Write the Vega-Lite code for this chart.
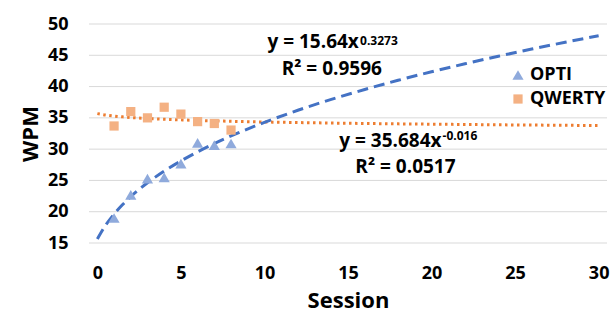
{
  "$schema": "https://vega.github.io/schema/vega-lite/v6.json",
  "width": 518,
  "height": 219,
  "autosize": {"type": "none"},
  "padding": {"left": 89, "top": 24, "right": 3, "bottom": 81},
  "background": "white",
  "config": {
    "view": {"stroke": null},
    "font": "Open Sans",
    "axis": {
      "labelFont": "Open Sans", "labelFontWeight": "bold", "labelFontSize": 18, "labelColor": "#000000",
      "titleFont": "Open Sans", "titleFontWeight": "bold", "titleFontSize": 22, "titleColor": "#000000",
      "domain": false, "tickSize": 0, "tickOpacity": 0
    },
    "legend": {"labelFont": "Open Sans", "labelFontWeight": "bold", "labelFontSize": 18, "labelColor": "#000000"}
  },
  "datasets": {
    "gridlines": [
      {"wpm": 15}, {"wpm": 20}, {"wpm": 25}, {"wpm": 30}, {"wpm": 35}, {"wpm": 40}, {"wpm": 45}, {"wpm": 50}
    ],
    "points": [
      {"session": 1, "wpm": 19.0, "layout": "OPTI"},
      {"session": 2, "wpm": 22.7, "layout": "OPTI"},
      {"session": 3, "wpm": 25.3, "layout": "OPTI"},
      {"session": 4, "wpm": 25.5, "layout": "OPTI"},
      {"session": 5, "wpm": 27.7, "layout": "OPTI"},
      {"session": 6, "wpm": 31.0, "layout": "OPTI"},
      {"session": 7, "wpm": 30.65, "layout": "OPTI"},
      {"session": 8, "wpm": 30.9, "layout": "OPTI"},
      {"session": 1, "wpm": 33.7, "layout": "QWERTY"},
      {"session": 2, "wpm": 36.0, "layout": "QWERTY"},
      {"session": 3, "wpm": 35.0, "layout": "QWERTY"},
      {"session": 4, "wpm": 36.7, "layout": "QWERTY"},
      {"session": 5, "wpm": 35.6, "layout": "QWERTY"},
      {"session": 6, "wpm": 34.4, "layout": "QWERTY"},
      {"session": 7, "wpm": 34.1, "layout": "QWERTY"},
      {"session": 8, "wpm": 33.05, "layout": "QWERTY"}
    ],
    "trend": [
      {"session": 0, "wpm": 15.64, "layout": "OPTI"},
      {"session": 0.5, "wpm": 17.86, "layout": "OPTI"},
      {"session": 1, "wpm": 19.62, "layout": "OPTI"},
      {"session": 1.5, "wpm": 21.11, "layout": "OPTI"},
      {"session": 2, "wpm": 22.41, "layout": "OPTI"},
      {"session": 3, "wpm": 24.62, "layout": "OPTI"},
      {"session": 4, "wpm": 26.49, "layout": "OPTI"},
      {"session": 5, "wpm": 28.11, "layout": "OPTI"},
      {"session": 6, "wpm": 29.57, "layout": "OPTI"},
      {"session": 7, "wpm": 30.89, "layout": "OPTI"},
      {"session": 8, "wpm": 32.11, "layout": "OPTI"},
      {"session": 10, "wpm": 34.28, "layout": "OPTI"},
      {"session": 12, "wpm": 36.21, "layout": "OPTI"},
      {"session": 14, "wpm": 37.95, "layout": "OPTI"},
      {"session": 16, "wpm": 39.53, "layout": "OPTI"},
      {"session": 18, "wpm": 41.0, "layout": "OPTI"},
      {"session": 20, "wpm": 42.37, "layout": "OPTI"},
      {"session": 22, "wpm": 43.64, "layout": "OPTI"},
      {"session": 24, "wpm": 44.85, "layout": "OPTI"},
      {"session": 26, "wpm": 46.0, "layout": "OPTI"},
      {"session": 28, "wpm": 47.08, "layout": "OPTI"},
      {"session": 30, "wpm": 48.12, "layout": "OPTI"},
      {"session": 0, "wpm": 35.68, "layout": "QWERTY"},
      {"session": 0.5, "wpm": 35.45, "layout": "QWERTY"},
      {"session": 1, "wpm": 35.29, "layout": "QWERTY"},
      {"session": 1.5, "wpm": 35.16, "layout": "QWERTY"},
      {"session": 2, "wpm": 35.06, "layout": "QWERTY"},
      {"session": 3, "wpm": 34.9, "layout": "QWERTY"},
      {"session": 4, "wpm": 34.78, "layout": "QWERTY"},
      {"session": 5, "wpm": 34.68, "layout": "QWERTY"},
      {"session": 6, "wpm": 34.59, "layout": "QWERTY"},
      {"session": 7, "wpm": 34.52, "layout": "QWERTY"},
      {"session": 8, "wpm": 34.45, "layout": "QWERTY"},
      {"session": 10, "wpm": 34.34, "layout": "QWERTY"},
      {"session": 12, "wpm": 34.25, "layout": "QWERTY"},
      {"session": 14, "wpm": 34.17, "layout": "QWERTY"},
      {"session": 16, "wpm": 34.1, "layout": "QWERTY"},
      {"session": 18, "wpm": 34.04, "layout": "QWERTY"},
      {"session": 20, "wpm": 33.99, "layout": "QWERTY"},
      {"session": 22, "wpm": 33.94, "layout": "QWERTY"},
      {"session": 24, "wpm": 33.89, "layout": "QWERTY"},
      {"session": 26, "wpm": 33.85, "layout": "QWERTY"},
      {"session": 28, "wpm": 33.81, "layout": "QWERTY"},
      {"session": 30, "wpm": 33.78, "layout": "QWERTY"}
    ]
  },
  "layer": [
    {
      "data": {"name": "gridlines"},
      "mark": {"type": "rule", "color": "#D9D9D9", "strokeWidth": 1},
      "encoding": {
        "y": {"field": "wpm", "type": "quantitative", "scale": {"domain": [15, 50], "nice": false, "zero": false},
              "axis": {"tickCount": 8, "grid": false, "labelOverlap": false, "title": "WPM", "labelPadding": 21, "titleX": -59, "titleY": 109.5, "titleAngle": 270, "titleAlign": "center", "titleBaseline": "middle"}}
      }
    },
    {
      "data": {"name": "trend"},
      "transform": [{"filter": "datum.layout === 'QWERTY'"}],
      "mark": {"type": "line", "color": "#ED7D31", "strokeWidth": 3, "strokeDash": [2.5, 3.5], "interpolate": "monotone"},
      "encoding": {
        "x": {"field": "session", "type": "quantitative", "scale": {"domain": [-0.5, 30.5], "nice": false, "zero": false},
              "axis": {"values": [0, 5, 10, 15, 20, 25, 30], "grid": false, "title": "Session", "labelPadding": 30, "labelBaseline": "middle", "titleY": 57, "titleBaseline": "middle"}},
        "y": {"field": "wpm", "type": "quantitative"}
      }
    },
    {
      "data": {"name": "trend"},
      "transform": [{"filter": "datum.layout === 'OPTI'"}],
      "mark": {"type": "line", "color": "#4472C4", "strokeWidth": 3, "strokeDash": [11, 6], "interpolate": "monotone"},
      "encoding": {
        "x": {"field": "session", "type": "quantitative"},
        "y": {"field": "wpm", "type": "quantitative"}
      }
    },
    {
      "data": {"name": "points"},
      "mark": {"type": "point", "filled": true, "opacity": 1, "strokeWidth": 0},
      "encoding": {
        "x": {"field": "session", "type": "quantitative"},
        "y": {"field": "wpm", "type": "quantitative"},
        "shape": {"field": "layout", "type": "nominal", "scale": {"domain": ["OPTI", "QWERTY"], "range": ["triangle-up", "square"]},
                  "legend": {"title": null, "orient": "none", "legendX": 420, "legendY": 42, "symbolSize": 50, "rowPadding": 6, "labelOffset": 3, "padding": 0}},
        "color": {"field": "layout", "type": "nominal", "scale": {"domain": ["OPTI", "QWERTY"], "range": ["#8FAADC", "#F4B183"]},
                  "legend": {"title": null, "orient": "none", "legendX": 420, "legendY": 42, "symbolSize": 50, "rowPadding": 6, "labelOffset": 3, "padding": 0}},
        "size": {"field": "layout", "type": "nominal", "scale": {"domain": ["OPTI", "QWERTY"], "range": [125, 85]}, "legend": null}
      }
    },
    {
      "data": {"values": [
        {"session": 15.65, "wpm": 46.16, "text": "y = 15.64x"},
        {"session": 20.6, "wpm": 30.29, "text": "y = 35.684x"}
      ]},
      "mark": {"type": "text", "align": "right", "baseline": "alphabetic", "fontSize": 19, "fontWeight": "bold", "font": "Open Sans", "color": "#000000"},
      "encoding": {
        "x": {"field": "session", "type": "quantitative"},
        "y": {"field": "wpm", "type": "quantitative"},
        "text": {"field": "text"}
      }
    },
    {
      "data": {"values": [
        {"session": 15.72, "wpm": 46.64, "text": "0.3273"},
        {"session": 20.66, "wpm": 31.54, "text": "-0.016"}
      ]},
      "mark": {"type": "text", "align": "left", "baseline": "alphabetic", "fontSize": 12, "fontWeight": "bold", "font": "Open Sans", "color": "#000000"},
      "encoding": {
        "x": {"field": "session", "type": "quantitative"},
        "y": {"field": "wpm", "type": "quantitative"},
        "text": {"field": "text"}
      }
    },
    {
      "data": {"values": [
        {"session": 14.03, "wpm": 41.85, "text": "R² = 0.9596"},
        {"session": 18.44, "wpm": 26.14, "text": "R² = 0.0517"}
      ]},
      "mark": {"type": "text", "align": "center", "baseline": "alphabetic", "fontSize": 19, "fontWeight": "bold", "font": "Open Sans", "color": "#000000"},
      "encoding": {
        "x": {"field": "session", "type": "quantitative"},
        "y": {"field": "wpm", "type": "quantitative"},
        "text": {"field": "text"}
      }
    }
  ]
}
